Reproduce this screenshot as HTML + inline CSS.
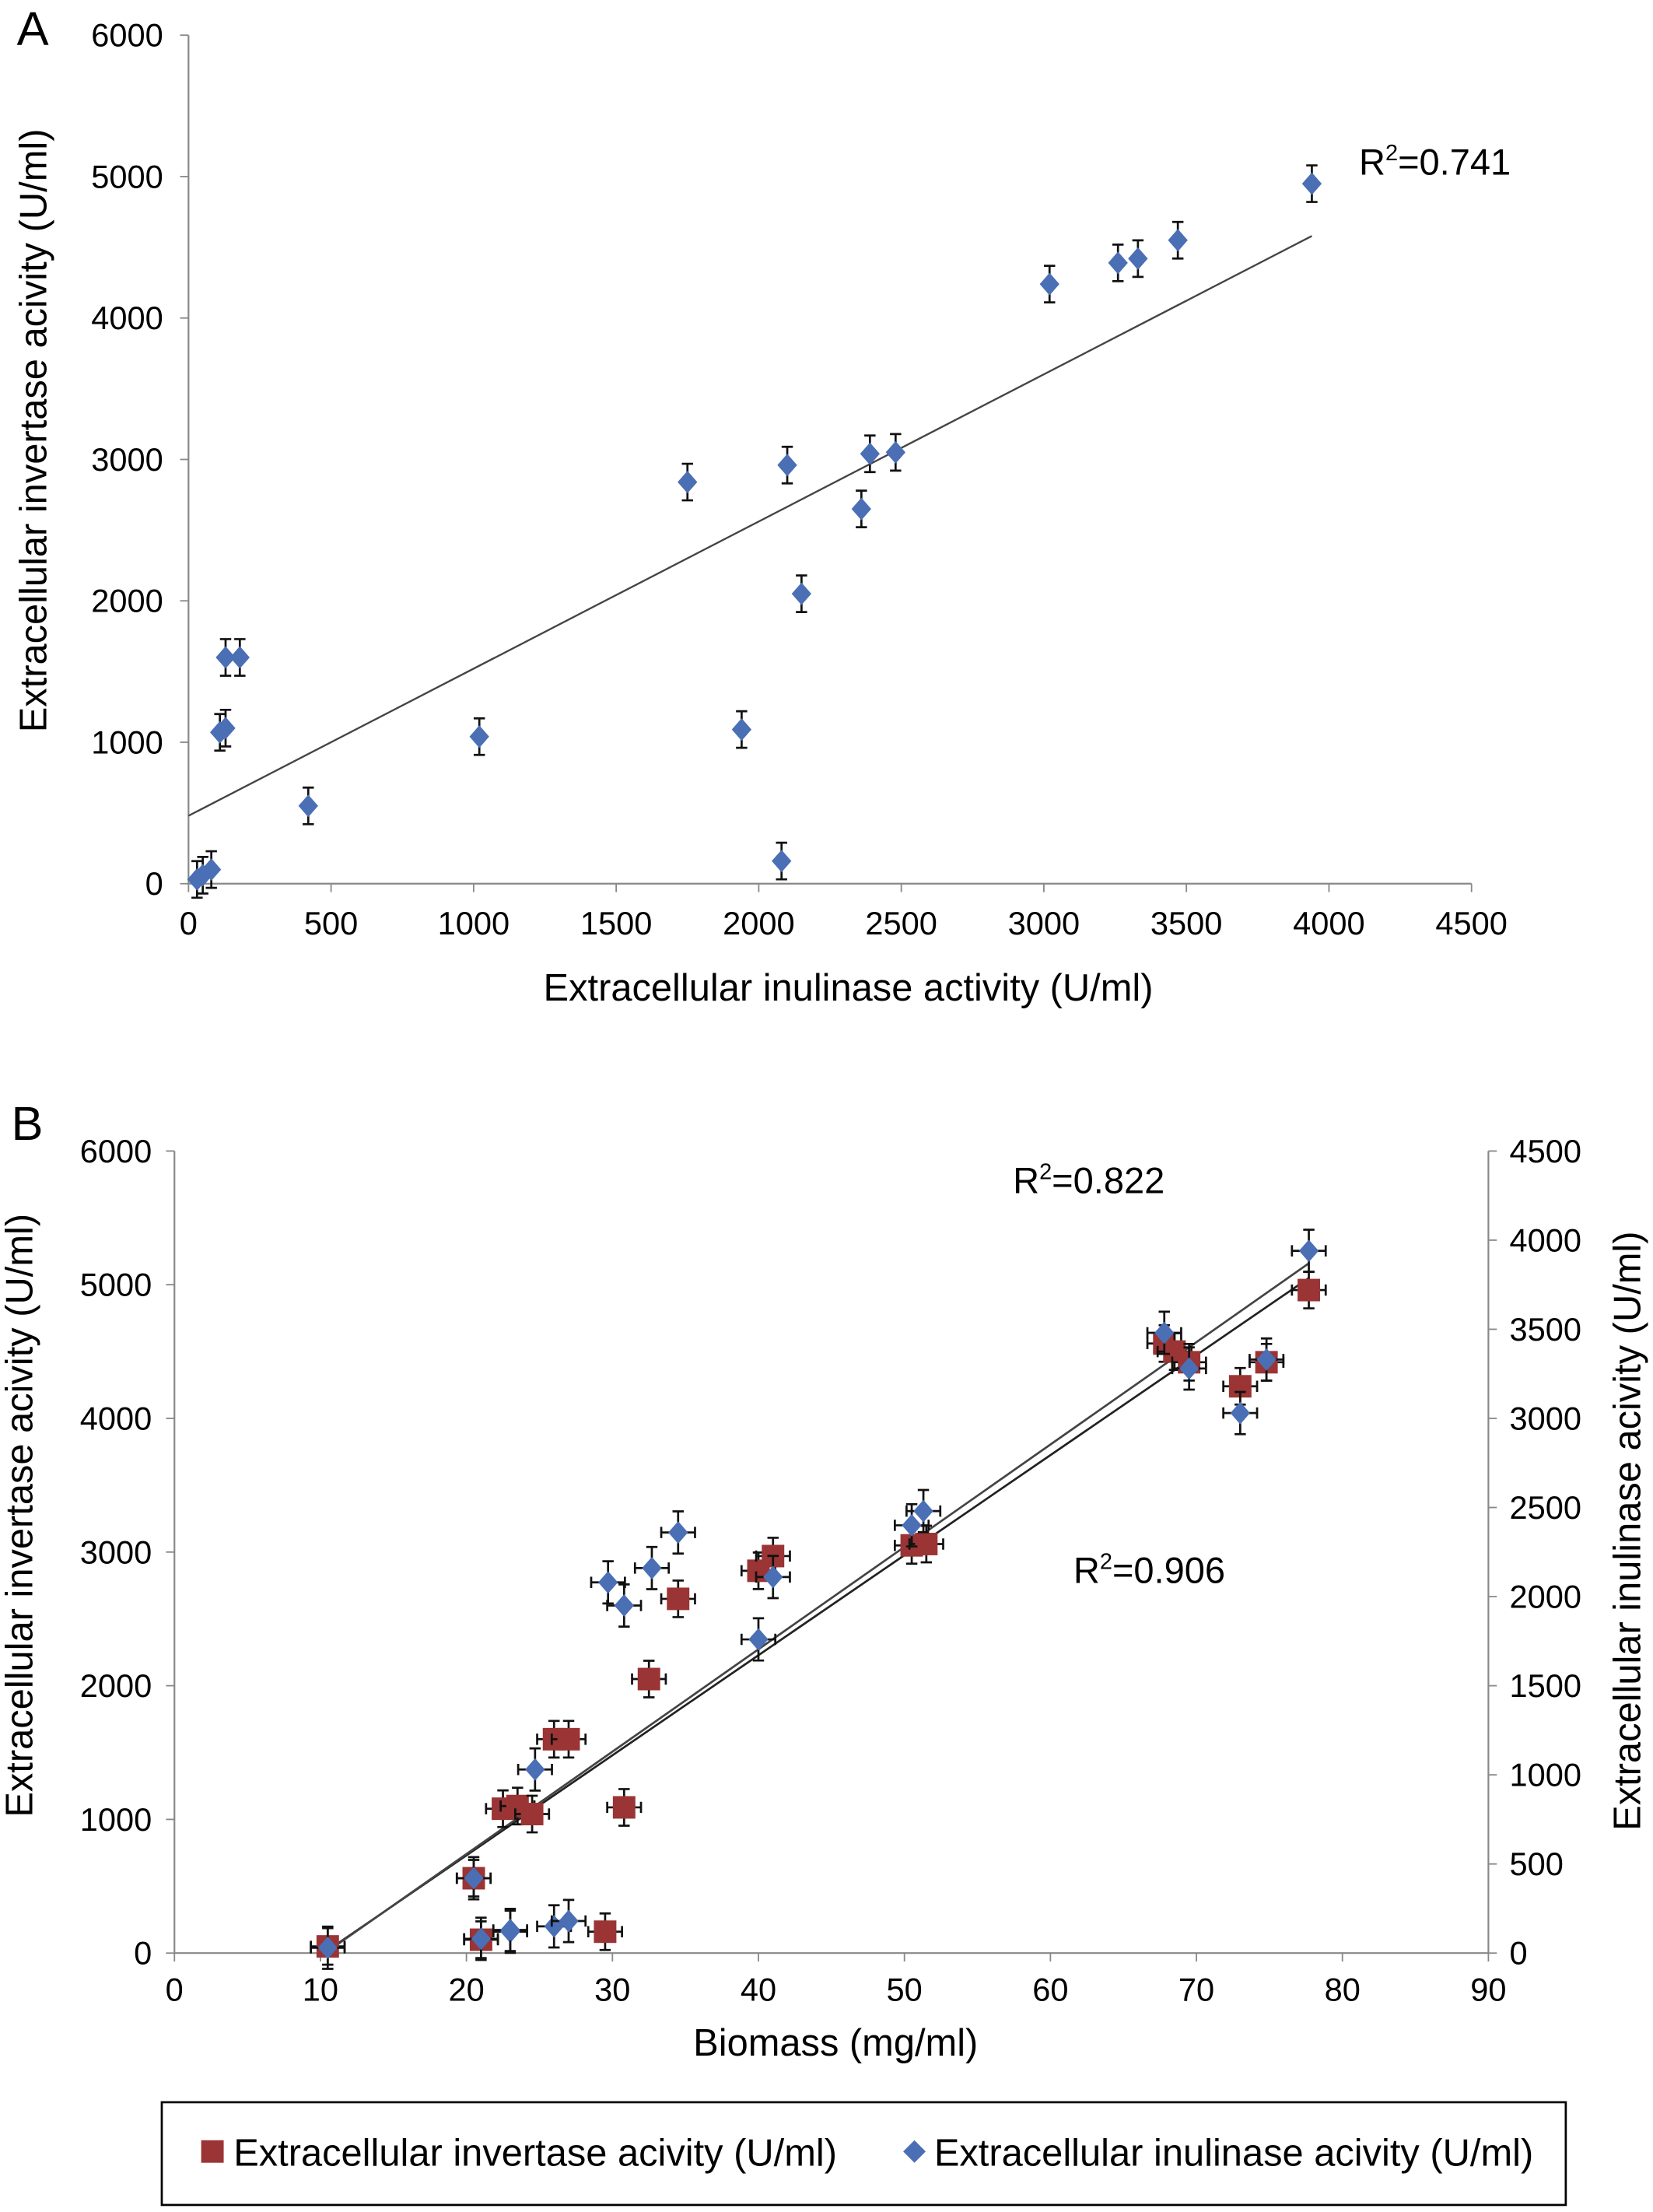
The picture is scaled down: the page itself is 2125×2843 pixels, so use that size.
<!DOCTYPE html>
<html><head><meta charset="utf-8"><style>
html,body{margin:0;padding:0;background:#fff}
svg{display:block;font-family:"Liberation Sans",Arial,sans-serif}
</style></head><body>
<svg id="c" width="2125" height="2843" viewBox="0 0 1175 1572" xmlns="http://www.w3.org/2000/svg">
<g id="pa"></g>
<g id="pb"></g>
<g id="lg">
<rect x="115" y="1494" width="998" height="73" fill="#fff" stroke="#000" stroke-width="1.5"/>
<rect x="143" y="1521" width="16" height="16" fill="#9b3434"/>
<text x="166" y="1539" font-size="27">Extracellular invertase acivity (U/ml)</text>
<path d="M650 1521 L658 1529 L650 1537 L642 1529Z" fill="#4a6fb5"/>
<text x="664" y="1539" font-size="27">Extracellular inulinase acivity (U/ml)</text>
</g>
</svg>
<script>
const NS="http://www.w3.org/2000/svg";
// Panel A data: inulinase (x) vs invertase (y)
const aInulinase=[30,50,80,110,130,130,180,420,1020,1750,1940,2080,2100,2150,2360,2390,2480,3020,3260,3330,3470,3940];
const aInvertase=[30,60,100,1070,1100,1600,1600,550,1040,2840,1090,160,2960,2050,2650,3040,3050,4240,4390,4420,4550,4950];
const aTrendX=[0,3940];
const aTrendY=[480,4580];
const aXTicks=[0,500,1000,1500,2000,2500,3000,3500,4000,4500];
const aYTicks=[0,1000,2000,3000,4000,5000,6000];
// Panel B data
const bBiomassInv=[10.5,21,20.5,22.5,23.5,24.5,26,27,29.5,30.8,32.5,34.5,40,41,50.5,51.5,67.8,68.5,69.5,73,74.8,77.7];
const bInvertase=[50,100,560,1080,1100,1040,1600,1600,160,1090,2050,2650,2860,2970,3050,3060,4560,4500,4420,4240,4420,4960];
const bBiomassInu=[10.5,21,20.5,23,23,24.7,26,27,29.7,30.8,32.7,34.5,40,41,50.5,51.3,67.8,69.5,73,74.8,77.7];
const bInulinase=[30,80,420,120,130,1030,150,180,2080,1950,2160,2360,1760,2110,2400,2480,3480,3280,3030,3330,3940];
const bTrendInvX=[10.5,77.7];
const bTrendInvY=[20,5050];
const bTrendInuX=[10.5,77.7];
const bTrendInuY=[10,3870];
const bXTicks=[0,10,20,30,40,50,60,70,80,90];
const bYTicks=[0,1000,2000,3000,4000,5000,6000];
const bY2Ticks=[0,500,1000,1500,2000,2500,3000,3500,4000,4500];

function el(p,t,a){const e=document.createElementNS(NS,t);for(const k in a)e.setAttribute(k,a[k]);p.appendChild(e);return e;}
function txt(p,x,y,s,size,anchor,extra){const e=el(p,"text",Object.assign({x:x,y:y,"font-size":size,"text-anchor":anchor||"start"},extra||{}));e.textContent=s;return e;}

// Panel A
const A=document.getElementById("pa");
const ax=v=>134+v/4500*912, ay=v=>628-v/6000*603;
el(A,"line",{x1:134,y1:25,x2:134,y2:628,stroke:"#888","stroke-width":1.2});
el(A,"line",{x1:134,y1:628,x2:1046,y2:628,stroke:"#888","stroke-width":1.2});
aXTicks.forEach(t=>{el(A,"line",{x1:ax(t),y1:628,x2:ax(t),y2:634,stroke:"#888"});
 const l=txt(A,ax(t),664,String(t),23,"middle");
 
 });
aYTicks.forEach(t=>{el(A,"line",{x1:128,y1:ay(t),x2:134,y2:ay(t),stroke:"#888"});
 const l=txt(A,116,ay(t)+8,String(t),23,"end");
 
 });
const tA=el(A,"line",{x1:ax(aTrendX[0]),y1:ay(aTrendY[0]),x2:ax(aTrendX[1]),y2:ay(aTrendY[1]),stroke:"#444","stroke-width":1.3});


function diamond(p,x,y,c){return el(p,"path",{d:`M${x} ${y-8}L${x+7} ${y}L${x} ${y+8}L${x-7} ${y}Z`,fill:c});}
function square(p,x,y,c){return el(p,"rect",{x:x-8,y:y-8,width:16,height:16,fill:c});}
function vbar(p,x,y1,y2){el(p,"path",{d:`M${x} ${y1}V${y2}M${x-4} ${y1}H${x+4}M${x-4} ${y2}H${x+4}`,stroke:"#111","stroke-width":1.5,fill:"none"});}
function hbar(p,y,x1,x2){el(p,"path",{d:`M${x1} ${y}H${x2}M${x1} ${y-4}V${y+4}M${x2} ${y-4}V${y+4}`,stroke:"#111","stroke-width":1.5,fill:"none"});}
aInulinase.forEach((v,i)=>{const x=ax(v),y=ay(aInvertase[i]);vbar(A,x,y-13,y+13);
 const m=diamond(A,x,y,"#4a6fb5");
 
 });
txt(A,12,32,"A",34,"start");
txt(A,966,124,"",26,"start").innerHTML='R<tspan font-size="16" dy="-10">2</tspan><tspan dy="10">=0.741</tspan>';
txt(A,603,711,"Extracellular inulinase activity (U/ml)",27,"middle",{});
txt(A,0,0,"Extracellular invertase acivity (U/ml)",27,"middle",{transform:"translate(33,306) rotate(-90)",});

// Panel B
const B=document.getElementById("pb");
const bx=v=>124+v/90*934, by=v=>1388-v/6000*570, by2=v=>1388-v/4500*570;
el(B,"line",{x1:124,y1:818,x2:124,y2:1388,stroke:"#888","stroke-width":1.2});
el(B,"line",{x1:124,y1:1388,x2:1058,y2:1388,stroke:"#888","stroke-width":1.2});
el(B,"line",{x1:1058,y1:818,x2:1058,y2:1388,stroke:"#888","stroke-width":1.2});
bXTicks.forEach(t=>{el(B,"line",{x1:bx(t),y1:1388,x2:bx(t),y2:1394,stroke:"#888"});
 const l=txt(B,bx(t),1422,String(t),23,"middle");
 
 });
bYTicks.forEach(t=>{el(B,"line",{x1:118,y1:by(t),x2:124,y2:by(t),stroke:"#888"});
 const l=txt(B,108,by(t)+8,String(t),23,"end");
 
 });
bY2Ticks.forEach(t=>{el(B,"line",{x1:1058,y1:by2(t),x2:1064,y2:by2(t),stroke:"#888"});
 const l=txt(B,1073,by2(t)+8,String(t),23,"start");
 
 });
const t1=el(B,"line",{x1:bx(bTrendInvX[0]),y1:by(bTrendInvY[0]),x2:bx(bTrendInvX[1]),y2:by(bTrendInvY[1]),stroke:"#222","stroke-width":1.5});


const t2=el(B,"line",{x1:bx(bTrendInuX[0]),y1:by2(bTrendInuY[0]),x2:bx(bTrendInuX[1]),y2:by2(bTrendInuY[1]),stroke:"#444","stroke-width":1.5});


bBiomassInv.forEach((v,i)=>{const x=bx(v),y=by(bInvertase[i]);vbar(B,x,y-13,y+13);hbar(B,y,x-12,x+12);
 const m=square(B,x,y,"#9b3434");
 
 });
bBiomassInu.forEach((v,i)=>{const x=bx(v),y=by2(bInulinase[i]);vbar(B,x,y-15,y+15);hbar(B,y,x-12,x+12);
 const m=diamond(B,x,y,"#4a6fb5");
 
 });
txt(B,8,810,"B",34,"start");
txt(B,720,848,"",26,"start").innerHTML='R<tspan font-size="16" dy="-10">2</tspan><tspan dy="10">=0.822</tspan>';
txt(B,763,1125,"",26,"start").innerHTML='R<tspan font-size="16" dy="-10">2</tspan><tspan dy="10">=0.906</tspan>';
txt(B,594,1461,"Biomass (mg/ml)",27,"middle",{});
txt(B,0,0,"Extracellular invertase acivity (U/ml)",27,"middle",{transform:"translate(23,1077) rotate(-90)",});
txt(B,0,0,"Extracellular inulinase acivity (U/ml)",27,"middle",{transform:"translate(1166,1088) rotate(-90)",});
</script>
</body></html>
